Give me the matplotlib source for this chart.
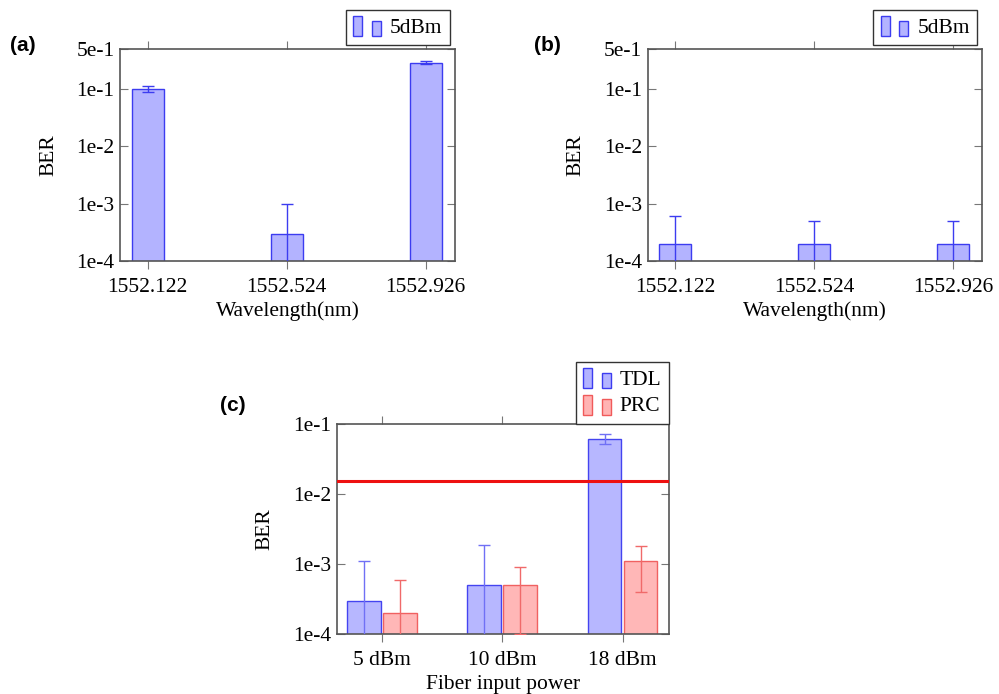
import numpy as np
import matplotlib
matplotlib.use('Agg')
from matplotlib import pyplot as plt
from matplotlib.patches import Rectangle
from matplotlib.legend_handler import HandlerBase
from matplotlib.ticker import FixedLocator, NullLocator

plt.rcParams['font.family'] = ['Liberation Serif', 'DejaVu Serif']

# data
waves = ['1552.122', '1552.524', '1552.926']
ber_a = [1e-1, 3e-4, 2.9e-1]
err_a = [1.2e-2, 7e-4, 2e-2]
ber_b = [2e-4, 2e-4, 2e-4]
err_b = [4e-4, 3e-4, 3e-4]

powers = ['5 dBm', '10 dBm', '18 dBm']
tdl = [3e-4, 5e-4, 6.2e-2]
tdl_err = [8e-4, 1.4e-3, 9.5e-3]
prc = [2e-4, 5e-4, 1.1e-3]
prc_err = [4e-4, 4e-4, 7e-4]
fec_limit = 1.55e-2

BLUE_F, BLUE_E = '#b3b3ff', '#3c3cf0'
RED_F, RED_E = '#ffb3b3', '#f05a5a'
FRAME = '#555555'
FS = 15.5


class TwoBars(HandlerBase):
    # pgfplots style ybar legend image: two little bars
    def create_artists(self, legend, orig_handle, xdescent, ydescent,
                       width, height, fontsize, trans):
        fc = orig_handle.get_facecolor()
        ec = orig_handle.get_edgecolor()
        w = width * 0.3
        r1 = Rectangle((-xdescent, -ydescent - 0.25 * height), w, height * 1.35,
                       facecolor=fc, edgecolor=ec, lw=1, transform=trans)
        r2 = Rectangle((-xdescent + width * 0.62, -ydescent - 0.25 * height), w, height * 1.05,
                       facecolor=fc, edgecolor=ec, lw=1, transform=trans)
        return [r1, r2]


def lower_err(vals, errs):
    # lower part of the bar goes below the axis when it would be negative
    return [e if e < v else v * 0.999 for v, e in zip(vals, errs)]


def style_axes(ax, yticks, ylabels):
    ax.set_yscale('log')
    ax.yaxis.set_major_locator(FixedLocator(yticks))
    ax.yaxis.set_minor_locator(NullLocator())
    ax.set_yticklabels(ylabels)
    ax.set_ylim(min(yticks), max(yticks))
    for s in ax.spines.values():
        s.set_color(FRAME)
        s.set_linewidth(1.2)
    ax.tick_params(axis='x', direction='out', top=True, length=6, color='#777777',
                   labelsize=FS, pad=6)
    ax.tick_params(axis='y', direction='in', right=True, length=6, color='#777777',
                   labelsize=FS, pad=4)
    ax.set_ylabel('BER', fontsize=FS, labelpad=13)


def legend(ax, handles, labels, anchor):
    lg = ax.legend(handles, labels, loc='upper right', bbox_to_anchor=anchor,
                   handler_map={Rectangle: TwoBars()}, fontsize=FS, fancybox=False,
                   framealpha=1, edgecolor='#333333', handlelength=1.4,
                   handletextpad=0.3, borderpad=0.35, labelspacing=0.3,
                   borderaxespad=0)
    lg.get_frame().set_linewidth(1.0)


fig = plt.figure(figsize=(9.99, 6.94), dpi=100)

x = np.arange(len(waves))
yt = [1e-4, 1e-3, 1e-2, 1e-1, 5e-1]
yl = ['1e-4', '1e-3', '1e-2', '1e-1', '5e-1']

for pos, ber, err, tag, tx in [([0.1201, 0.6239, 0.3353, 0.3055], ber_a, err_a, '(a)', 0.010),
                               ([0.6483, 0.6239, 0.3350, 0.3055], ber_b, err_b, '(b)', 0.535)]:
    ax = fig.add_axes(pos)
    ax.bar(x, ber, width=0.23, color=BLUE_F, edgecolor=BLUE_E, lw=1, zorder=2)
    ax.errorbar(x, ber, yerr=[lower_err(ber, err), err], fmt='none', ecolor=BLUE_E,
                elinewidth=1, capsize=4, capthick=1, zorder=3)
    style_axes(ax, yt, yl)
    ax.set_xticks(x)
    ax.set_xticklabels(waves)
    ax.set_xlim(-0.2, 2.21)
    ax.set_xlabel('Wavelength(nm)', fontsize=FS, labelpad=3)
    legend(ax, [Rectangle((0, 0), 1, 1, facecolor=BLUE_F, edgecolor=BLUE_E)], ['5dBm'],
           (0.985, 1.184))
    fig.text(tx, 0.935, tag, fontsize=15, fontweight='bold', family='Liberation Sans',
             va='center')

# panel (c)
ax = fig.add_axes([0.337, 0.0865, 0.3326, 0.3022])
xc = np.arange(len(powers))
off, bw = 0.15, 0.28
ax.bar(xc - off, tdl, width=bw, color=BLUE_F, edgecolor=BLUE_E, lw=1, alpha=0.95, zorder=2)
ax.bar(xc + off, prc, width=bw, color=RED_F, edgecolor=RED_E, lw=1, alpha=0.95, zorder=2)
ax.errorbar(xc - off, tdl, yerr=[lower_err(tdl, tdl_err), tdl_err], fmt='none',
            ecolor='#7070f5', elinewidth=1, capsize=4, capthick=1, zorder=3)
ax.errorbar(xc + off, prc, yerr=[lower_err(prc, prc_err), prc_err], fmt='none',
            ecolor='#f06a6a', elinewidth=1, capsize=4, capthick=1, zorder=3)
ax.axhline(fec_limit, color='#ee1111', lw=2.2, zorder=4)
style_axes(ax, [1e-4, 1e-3, 1e-2, 1e-1], ['1e-4', '1e-3', '1e-2', '1e-1'])
ax.set_xticks(xc)
ax.set_xticklabels(powers)
ax.set_xlim(-0.375, 2.385)
ax.set_xlabel('Fiber input power', fontsize=FS, labelpad=4)
legend(ax, [Rectangle((0, 0), 1, 1, facecolor=BLUE_F, edgecolor=BLUE_E),
            Rectangle((0, 0), 1, 1, facecolor=RED_F, edgecolor=RED_E)],
       ['TDL', 'PRC'], (1.0, 1.297))
fig.text(0.220, 0.416, '(c)', fontsize=15, fontweight='bold', family='Liberation Sans',
         va='center')

fig.savefig('out.png', dpi=100)
